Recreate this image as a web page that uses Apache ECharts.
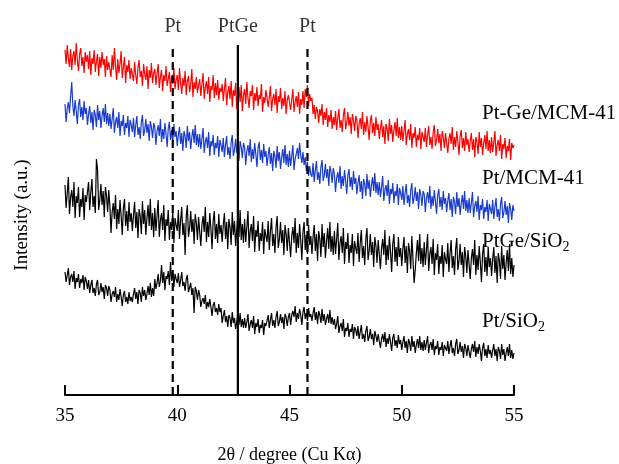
<!DOCTYPE html>
<html><head><meta charset="utf-8">
<script src="https://cdn.jsdelivr.net/npm/echarts@6/dist/echarts.min.js"></script>
<style>html,body{margin:0;padding:0;background:#fff}#c{width:619px;height:464px}</style>
</head><body><div id="c"></div>
<script>
// 2θ range (degrees); samples are evenly spaced over it (0.05° step)
const xMin = 35, xMax = 55;
const xTicks = [35, 40, 45, 50, 55];
const seriesNames = ['Pt-Ge/MCM-41', 'Pt/MCM-41', 'PtGe/SiO2', 'Pt/SiO2'];
// intensities (a.u., offset-stacked traces), one row per degree
const ptGeMCM = [
345,331,350,336,328,346,325,339,344,330,352,335,324,341,347,329,338,322,343,333,
340,326,344,320,337,331,345,323,334,341,319,338,327,343,330,336,318,339,325,333,
333,318,340,325,347,329,315,336,322,331,344,317,328,338,312,330,323,335,316,327,
329,314,333,320,311,327,335,318,324,309,331,321,315,329,306,325,317,332,312,322,
326,310,322,331,307,318,325,304,320,314,329,309,316,323,303,319,311,327,306,315,
320,305,327,312,301,317,309,324,300,314,319,303,311,326,298,313,306,318,302,310,
316,299,311,322,296,308,314,301,318,293,309,305,320,297,312,300,315,295,307,303,
311,294,306,317,290,303,309,296,314,288,305,299,312,286,301,308,293,310,284,300,
306,291,313,297,287,304,299,310,285,302,294,308,289,300,296,311,283,298,292,305,
303,288,298,309,284,296,301,290,306,282,299,293,307,286,297,289,304,281,295,300,
300,285,295,306,283,293,299,288,303,281,296,290,304,287,306,298,310,289,301,294,
297,281,290,276,288,284,272,286,279,291,270,283,275,287,268,280,273,285,266,278,
270,284,265,277,286,267,275,263,280,287,266,272,283,269,278,261,281,275,264,279,
275,257,271,277,266,283,260,273,263,279,268,255,274,280,262,272,259,278,265,271,
256,267,275,258,269,251,271,266,254,276,261,270,253,265,273,259,277,257,268,255,
269,254,264,275,250,261,266,255,271,247,262,257,268,248,260,255,267,246,263,258,
253,267,248,260,269,250,258,246,263,270,249,255,266,252,261,244,264,258,247,262,
260,242,256,262,251,268,245,258,248,264,253,240,259,265,247,257,244,263,250,256,
243,254,262,245,256,238,258,253,241,263,248,257,240,252,260,246,264,244,255,242,
258,243,253,264,239,250,255,244,260,236,251,246,257,237,249,244,256,235,252,247,
250];
const ptMCM = [
291,273,287,293,282,299,313,289,279,295,284,271,290,296,278,288,275,294,281,287,
270,281,289,272,283,265,285,280,268,290,275,284,267,279,287,273,291,271,282,269,
281,266,276,287,262,273,278,267,283,259,274,269,280,260,272,267,279,258,275,270,
263,277,258,270,279,260,268,256,273,280,259,265,276,262,271,254,274,268,257,272,
268,250,264,270,259,276,253,266,256,272,261,248,267,273,255,265,252,271,258,264,
249,260,268,251,262,244,264,259,247,269,254,263,246,258,266,252,270,250,261,248,
261,246,256,267,242,253,258,247,263,239,254,249,260,240,252,247,259,238,255,250,
243,257,238,250,259,240,248,236,253,260,239,245,256,242,251,234,254,248,237,252,
248,230,244,250,239,256,233,246,236,252,241,228,247,253,235,245,232,251,238,244,
229,240,248,231,242,224,244,239,227,249,234,243,226,238,246,232,250,230,241,228,
244,229,239,250,225,236,241,247,236,252,240,232,243,230,238,224,233,219,229,221,
218,232,213,225,234,215,223,211,228,235,214,220,231,217,226,209,229,223,212,227,
221,203,217,223,212,229,206,219,209,225,214,201,220,226,208,218,205,224,211,217,
201,212,220,203,214,196,216,211,199,221,206,215,198,210,218,204,222,202,213,200,
213,198,208,219,194,205,210,199,215,191,206,201,212,192,204,199,211,190,207,202,
195,209,190,202,211,192,200,188,205,212,191,197,208,194,203,186,206,200,189,204,
201,183,197,203,192,209,186,199,189,205,194,181,200,206,188,198,185,204,191,197,
183,194,202,185,196,178,198,193,181,203,188,197,180,192,200,186,204,184,195,182,
197,182,192,203,178,189,194,183,199,175,190,185,196,176,188,183,195,174,191,186,
181,195,176,188,197,178,186,174,191,198,177,183,194,180,189,172,192,186,175,190,
184];
const ptGeSiO2 = [
210,187,202,218,181,198,205,188,213,177,199,192,208,178,196,188,207,175,200,193,
192,213,185,203,216,188,199,182,236,225,185,195,211,190,204,178,208,199,183,205,
189,162,183,192,176,200,166,186,171,195,179,160,187,196,169,184,164,193,173,182,
164,180,193,167,183,157,186,179,161,194,171,185,160,177,190,169,196,165,182,158,
187,164,179,195,158,175,182,165,190,154,176,169,185,155,173,165,184,152,177,170,
164,185,156,175,188,160,172,140,179,190,158,167,184,163,176,151,181,172,155,178,
176,149,170,179,163,188,153,173,158,182,166,146,174,184,156,171,152,181,161,170,
153,170,182,156,173,146,176,168,150,183,160,174,149,166,179,158,185,155,171,152,
176,153,168,184,147,164,171,154,179,143,165,158,174,144,162,154,173,141,166,159,
153,174,145,164,177,149,161,142,168,179,147,156,173,152,165,140,170,161,144,167,
165,138,159,168,152,177,142,162,147,171,155,135,163,173,145,160,141,170,150,159,
141,158,170,144,161,134,164,156,138,171,148,162,137,154,167,146,173,143,159,140,
164,141,156,172,135,152,159,142,167,131,153,146,162,132,150,142,161,129,154,147,
141,162,133,152,165,137,149,130,156,167,135,144,161,140,153,128,158,149,132,155,
153,126,147,156,140,165,130,150,135,159,143,123,151,161,133,148,129,158,138,147,
129,146,158,132,149,122,152,144,126,159,136,112,125,142,155,134,161,131,147,128,
153,130,145,161,124,141,148,131,156,120,142,135,151,121,139,131,150,118,143,136,
131,152,123,142,155,127,139,120,146,157,125,134,151,130,143,118,148,139,122,145,
143,116,137,146,130,155,120,140,125,149,133,113,141,151,123,138,119,148,128,137,
119,136,148,122,139,112,142,134,116,149,126,140,115,132,145,124,151,121,137,118,
130];
const ptSiO2 = [
123,113,120,127,110,118,121,113,124,106,117,113,121,107,116,112,120,105,118,114,
106,115,102,110,115,102,107,99,111,115,100,103,112,103,108,96,110,107,99,109,
105,93,101,104,98,108,93,101,95,106,98,89,100,104,93,98,91,103,94,98,
93,101,107,96,103,91,105,102,93,108,99,105,95,101,109,100,112,98,107,99,
116,106,112,121,108,114,130,112,123,105,119,116,124,110,133,114,122,108,121,116,
112,122,108,115,123,109,113,104,116,120,103,104,112,100,107,82,108,104,95,105,
100,88,94,97,91,100,86,93,88,96,88,79,90,93,83,87,80,91,83,87,
72,79,85,73,79,68,80,77,68,83,72,77,66,73,80,70,82,68,76,67,
77,67,73,81,64,71,75,67,79,61,72,68,76,62,70,67,75,60,72,69,
70,80,67,75,82,69,75,67,78,84,69,73,81,72,78,66,81,78,69,78,
82,70,80,84,78,89,73,82,76,86,80,70,83,88,76,82,74,87,78,81,
74,82,88,75,83,71,84,80,72,86,74,81,70,76,81,72,85,71,78,70,
76,66,71,79,62,69,72,64,76,58,67,64,72,58,66,63,71,56,68,65,
59,69,56,63,70,56,61,53,64,69,54,58,66,56,61,50,64,59,53,61,
59,47,56,61,53,63,48,57,51,61,53,44,57,61,49,55,47,60,51,55,
45,53,59,47,54,42,56,52,44,59,48,54,42,50,56,47,59,45,53,44,
55,45,52,59,42,50,53,45,56,40,49,46,54,40,48,45,53,39,50,47,
44,54,41,49,55,42,47,39,51,56,41,45,53,43,49,37,51,47,39,50,
49,37,46,51,43,54,38,48,41,51,44,34,47,52,39,46,37,50,41,45,
37,45,51,39,46,34,48,44,36,51,40,46,34,42,48,39,51,37,45,36,
42];
// reference reflections
const refNames = ['Pt', 'PtGe', 'Pt'];
const refPos = [39.8, 42.7, 45.8];
const refDashed = [true, false, true];
const refTop = 350;

const toPairs = arr => arr.map((v, i) => [xMin + i * (xMax - xMin) / (arr.length - 1), v]);
const FONT = 'Liberation Serif';
const colors = ['#ff0000', '#1a3ccc', '#000000', '#000000'];
const dataSets = [ptGeMCM, ptMCM, ptGeSiO2, ptSiO2];

const series = dataSets.map((d, i) => ({
  name: seriesNames[i], type: 'line', data: toPairs(d), showSymbol: false, symbol: 'none',
  lineStyle: { color: colors[i], width: 1.2 }, z: 3, animation: false
}));
refPos.forEach((p, i) => {
  series.push({
    type: 'line', symbol: 'none', animation: false, z: 4,
    data: [[p, 0], [p, refTop]],
    lineStyle: { color: '#000', width: 2.2, type: refDashed[i] ? [8, 5] : 'solid' }
  });
});
series.push({
  type: 'scatter', animation: false, z: 5, symbolSize: 1,
  itemStyle: { color: 'rgba(0,0,0,0)' },
  data: refPos.map((p, i) => ({ value: [p, refTop], name: refNames[i] })),
  label: { show: true, position: 'top', distance: 8, formatter: q => q.name,
    fontFamily: FONT, fontSize: 20, color: '#000' }
});

const labelY = [114, 179, 242, 322];
const chart = echarts.init(document.getElementById('c'));
chart.setOption({
  backgroundColor: '#fff',
  animation: false,
  grid: { left: 65, right: 105, top: 35, bottom: 69, containLabel: false, outerBoundsMode: 'none' },
  xAxis: {
    type: 'value', min: 35, max: 55, interval: 5,
    axisLine: { lineStyle: { color: '#000', width: 2 } },
    axisTick: { inside: true, length: 10, lineStyle: { color: '#000', width: 2 } },
    axisLabel: { fontFamily: FONT, fontSize: 19, color: '#000', margin: 12,
      formatter: v => xTicks.includes(v) ? String(v) : '' },
    splitLine: { show: false },
    name: '2θ / degree (Cu Kα)', nameLocation: 'middle', nameGap: 50,
    nameTextStyle: { fontFamily: FONT, fontSize: 18, color: '#000', lineHeight: 20 }
  },
  yAxis: {
    type: 'value', min: 0, max: 360,
    axisLine: { show: false }, axisTick: { show: false }, axisLabel: { show: false },
    splitLine: { show: false },
    name: 'Intensity (a.u.)', nameLocation: 'middle', nameGap: 33,
    nameTextStyle: { fontFamily: FONT, fontSize: 19, color: '#000' }
  },
  series: series,
  graphic: seriesNames.map((n, i) => ({
    type: 'text', left: 482, top: labelY[i] - 11, z: 10,
    style: {
      text: n.endsWith('SiO2') ? n.replace('SiO2', 'SiO{s|2}') : n,
      font: '21px "' + FONT + '"', fill: '#000',
      rich: { s: { fontFamily: FONT, fontSize: 14, verticalAlign: 'bottom', padding: [12, 0, 0, 0], fill: '#000' } }
    }
  }))
});
</script>
</body></html>
